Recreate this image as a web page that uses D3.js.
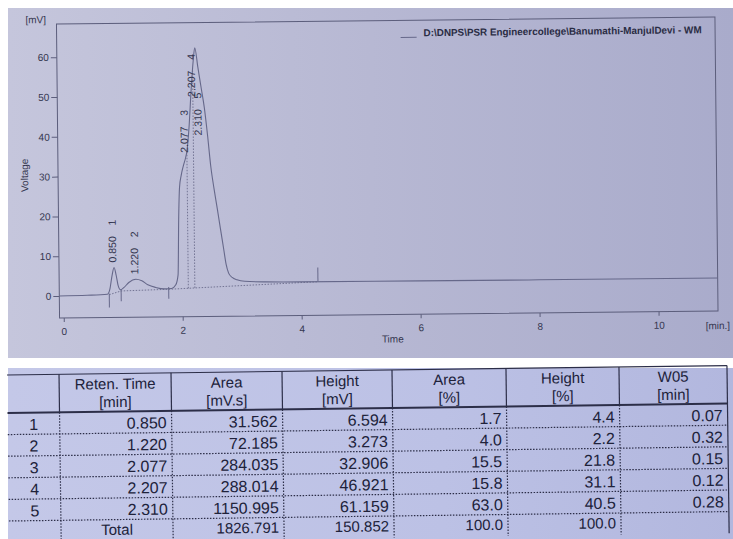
<!DOCTYPE html>
<html>
<head>
<meta charset="utf-8">
<script src="https://cdn.jsdelivr.net/npm/d3@7"></script>
<style>
  html, body { margin: 0; padding: 0; background: #ffffff; }
  svg { display: block; font-family: "Liberation Sans", Arial, sans-serif; }
</style>
</head>
<body>
<svg id="chart" width="733" height="539"></svg>
<script>
// ---------------- DATA ----------------
// detector trace: time [min], voltage [mV]
const signalTime = [-0.07, 0.40, 0.74, 0.78, 0.82, 0.855, 0.89, 0.92, 0.96, 1.02, 1.10, 1.22, 1.32, 1.42, 1.55, 1.70, 1.82, 1.89,
  1.93, 1.95, 1.97, 2.00, 2.04, 2.077, 2.10, 2.14, 2.18, 2.22, 2.25, 2.30, 2.35, 2.40, 2.45, 2.50, 2.55, 2.60, 2.65, 2.70,
  2.74, 2.78, 2.84, 2.92, 3.05, 3.40, 4.00, 6.00, 8.00, 11.00];
const signalMv = [0.0, 0.1, 0.3, 1.5, 5.0, 7.0, 5.0, 2.5, 1.4, 2.0, 3.2, 4.0, 3.6, 2.6, 1.9, 1.5, 1.6, 2.5,
  5.0, 19.0, 27.0, 30.0, 32.5, 34.4, 36.0, 42.0, 51.0, 58.5, 62.0, 57.0, 52.0, 47.0, 40.0, 32.0, 26.5, 21.6, 16.5, 11.5,
  7.5, 5.3, 4.2, 3.6, 3.2, 3.0, 2.9, 2.85, 2.8, 2.8];

// integration baseline (dotted) segments: time, mV
const baseTime = [0.77, 0.97, 1.77, 4.28];
const baseMv = [0.2, 1.1, 1.4, 2.9];
// event marks (short vertical ticks): time, low mV, high mV
const markTime = [0.77, 0.97, 1.77, 4.28];
const markLow = [-3.0, -1.5, -1.0, 3.0];
const markHigh = [0.5, 1.5, 2.0, 6.5];
// peak-split drop lines
const dropTime = [2.10, 2.21];

// peak table
const peakNo = ["1", "2", "3", "4", "5"];
const retTime = ["0.850", "1.220", "2.077", "2.207", "2.310"];
const areaVal = ["31.562", "72.185", "284.035", "288.014", "1150.995"];
const heightVal = ["6.594", "3.273", "32.906", "46.921", "61.159"];
const areaPct = ["1.7", "4.0", "15.5", "15.8", "63.0"];
const heightPct = ["4.4", "2.2", "21.8", "31.1", "40.5"];
const w05 = ["0.07", "0.32", "0.15", "0.12", "0.28"];
const totalRow = ["", "Total", "1826.791", "150.852", "100.0", "100.0", ""];
const headers1 = ["", "Reten. Time", "Area", "Height", "Area", "Height", "W05"];
const headers2 = ["", "[min]", "[mV.s]", "[mV]", "[%]", "[%]", "[min]"];
// label level of each peak annotation (mV)
const labelLevel = [7.0, 4.0, 34.4, 48.4, 38.7];

const xTicks = [0, 2, 4, 6, 8, 10];
const yTicks = [0, 10, 20, 30, 40, 50, 60];
const legendText = "D:\\DNPS\\PSR Engineercollege\\Banumathi-ManjulDevi - WM";

// ---------------- DRAW ----------------
const svg = d3.select("#chart");
const defs = svg.append("defs");
const g1 = defs.append("linearGradient").attr("id", "paper1").attr("x1", 0).attr("x2", 1).attr("y1", 0).attr("y2", 0);
g1.append("stop").attr("offset", 0).attr("stop-color", "#c5c6dc");
g1.append("stop").attr("offset", 0.5).attr("stop-color", "#b7b8d3");
g1.append("stop").attr("offset", 1).attr("stop-color", "#a9abcb");
const g2 = defs.append("linearGradient").attr("id", "paper2").attr("x1", 0).attr("x2", 1).attr("y1", 0).attr("y2", 0);
g2.append("stop").attr("offset", 0).attr("stop-color", "#c4c8e8");
g2.append("stop").attr("offset", 0.6).attr("stop-color", "#bcc1e5");
g2.append("stop").attr("offset", 1).attr("stop-color", "#b2b7de");

svg.append("rect").attr("x", 8).attr("y", 8).attr("width", 725).attr("height", 350).attr("fill", "url(#paper1)");
svg.append("rect").attr("x", 8).attr("y", 368).attr("width", 725).attr("height", 171).attr("fill", "url(#paper2)");

const ink = "#34364f";
const lineInk = "#66688a";

const chart = svg.append("g").attr("transform", "rotate(-0.6,58,170)");
const x = d3.scaleLinear().domain([-0.07, 11]).range([58, 716.5]);
const y = d3.scaleLinear().domain([0, 60]).range([296, 57.2]);
const frameTop = 24, frameBottom = 318;

// frame
chart.append("rect").attr("x", 58).attr("y", frameTop).attr("width", 716.5 - 58).attr("height", frameBottom - frameTop)
  .attr("fill", "none").attr("stroke", "#5c5e7c").attr("stroke-width", 1);

// axes
const yAxis = chart.append("g").attr("transform", "translate(58,0)")
  .call(d3.axisLeft(y).tickValues(yTicks).tickSize(6).tickPadding(2));
const xAxis = chart.append("g").attr("transform", `translate(0,${frameBottom})`)
  .call(d3.axisBottom(x).tickValues(xTicks).tickSize(4).tickPadding(6));
[yAxis, xAxis].forEach(a => {
  a.select(".domain").remove();
  a.selectAll("line").attr("stroke", "#5c5e7c");
  a.selectAll("text").attr("fill", ink).style("font-size", "10px");
});

chart.append("text").attr("x", 27).attr("y", 23).attr("fill", ink).style("font-size", "10px").text("[mV]");
chart.append("text").attr("transform", "translate(28,175) rotate(-90)").attr("text-anchor", "middle")
  .attr("fill", ink).style("font-size", "10px").text("Voltage");
chart.append("text").attr("x", 391).attr("y", 346).attr("text-anchor", "middle").attr("fill", ink).style("font-size", "10px").text("Time");
chart.append("text").attr("x", 704).attr("y", 336).attr("fill", ink).style("font-size", "10px").text("[min.]");

// legend
chart.append("line").attr("x1", 402).attr("x2", 418).attr("y1", 41).attr("y2", 41).attr("stroke", lineInk);
chart.append("text").attr("x", 425).attr("y", 40).attr("fill", "#2a2c44").style("font-size", "10px").style("font-weight", "bold")
  .attr("textLength", 278).attr("lengthAdjust", "spacingAndGlyphs").text(legendText);

// baseline & marks
const basePts = baseTime.map((t, i) => [x(t), y(baseMv[i])]);
chart.append("path").attr("d", d3.line()(basePts)).attr("fill", "none")
  .attr("stroke", "#6a6c8c").attr("stroke-width", 0.9).attr("stroke-dasharray", "1.5,1.5");
chart.selectAll(".mark").data(markTime).join("line").attr("class", "mark")
  .attr("x1", d => x(d)).attr("x2", d => x(d))
  .attr("y1", (d, i) => y(markLow[i])).attr("y2", (d, i) => y(markHigh[i]))
  .attr("stroke", lineInk).attr("stroke-width", 1);

const interp = t => {
  for (let i = 1; i < signalTime.length; i++) {
    if (t <= signalTime[i]) {
      const f = (t - signalTime[i - 1]) / (signalTime[i] - signalTime[i - 1]);
      return signalMv[i - 1] + f * (signalMv[i] - signalMv[i - 1]);
    }
  }
  return signalMv[signalMv.length - 1];
};
const baseAt = t => {
  for (let i = 1; i < baseTime.length; i++) {
    if (t <= baseTime[i]) {
      const f = (t - baseTime[i - 1]) / (baseTime[i] - baseTime[i - 1]);
      return baseMv[i - 1] + f * (baseMv[i] - baseMv[i - 1]);
    }
  }
  return baseMv[baseMv.length - 1];
};
chart.selectAll(".drop").data(dropTime).join("line").attr("class", "drop")
  .attr("x1", d => x(d)).attr("x2", d => x(d))
  .attr("y1", d => y(baseAt(d))).attr("y2", d => y(interp(d)))
  .attr("stroke", "#6a6c8c").attr("stroke-width", 0.9).attr("stroke-dasharray", "1.5,1.5");

// signal trace
const sigPts = signalTime.map((t, i) => [x(t), y(signalMv[i])]);
chart.append("path").attr("d", d3.line().curve(d3.curveMonotoneX)(sigPts))
  .attr("fill", "none").attr("stroke", lineInk).attr("stroke-width", 1.1);

// peak labels
retTime.forEach((rt, i) => {
  const px = x(+rt) - 1.5;
  const py = y(labelLevel[i]) - 5;
  chart.append("text").attr("transform", `translate(${px},${py}) rotate(-90)`)
    .attr("dominant-baseline", "central").attr("fill", ink).style("font-size", "10.5px").text(rt);
  chart.append("text").attr("transform", `translate(${px},${py - 40}) rotate(-90)`)
    .attr("dominant-baseline", "central").attr("text-anchor", "middle").attr("fill", ink).style("font-size", "10.5px").text(peakNo[i]);
});

// ---------------- TABLE ----------------
const table = svg.append("g").attr("transform", "rotate(-0.75,8,450)");
const colEdges = [8, 60, 172, 283, 393, 507, 620, 728];
const headTop = 375, headBottom = 413, rowH = 21.6;
const nRows = 6;
const tableBottom = headBottom + rowH * nRows;
const tInk = "#20223a";
const tLine = "#2c2e48";

table.append("line").attr("x1", 8).attr("x2", 728).attr("y1", headTop).attr("y2", headTop).attr("stroke", tLine).attr("stroke-width", 1.2);
table.append("line").attr("x1", 8).attr("x2", 728).attr("y1", headBottom).attr("y2", headBottom).attr("stroke", tLine).attr("stroke-width", 2);
colEdges.slice(1, 7).forEach(cx => {
  table.append("line").attr("x1", cx).attr("x2", cx).attr("y1", headTop).attr("y2", headBottom).attr("stroke", tLine).attr("stroke-width", 1.2);
  table.append("line").attr("x1", cx).attr("x2", cx).attr("y1", headBottom).attr("y2", tableBottom)
    .attr("stroke", tLine).attr("stroke-width", 1.2).attr("stroke-dasharray", "1.5,1.5");
});
table.append("line").attr("x1", 728).attr("x2", 728).attr("y1", headTop).attr("y2", tableBottom).attr("stroke", tLine).attr("stroke-width", 1.2);
for (let r = 1; r < nRows; r++) {
  table.append("line").attr("x1", 8).attr("x2", 728).attr("y1", headBottom + r * rowH).attr("y2", headBottom + r * rowH)
    .attr("stroke", tLine).attr("stroke-width", 1.2).attr("stroke-dasharray", "1.5,1.5");
}
headers1.forEach((h, c) => {
  const cx = (colEdges[c] + colEdges[c + 1]) / 2;
  table.append("text").attr("x", cx).attr("y", 385).attr("text-anchor", "middle").attr("dominant-baseline", "central")
    .attr("fill", tInk).style("font-size", "15px").text(h);
  table.append("text").attr("x", cx).attr("y", 403).attr("text-anchor", "middle").attr("dominant-baseline", "central")
    .attr("fill", tInk).style("font-size", "15px").text(headers2[c]);
});
const rows = peakNo.map((n, i) => [n, retTime[i], areaVal[i], heightVal[i], areaPct[i], heightPct[i], w05[i]]);
rows.push(totalRow);
rows.forEach((row, r) => {
  const isTotal = r === rows.length - 1;
  const cy = headBottom + rowH * r + rowH / 2 + (isTotal ? -1 : 1);
  row.forEach((v, c) => {
    let tx, anchor;
    if (c === 0 || (isTotal && c === 1)) { tx = (colEdges[c] + colEdges[c + 1]) / 2; anchor = "middle"; }
    else { tx = colEdges[c + 1] - 5; anchor = "end"; }
    table.append("text").attr("x", tx).attr("y", cy).attr("text-anchor", anchor).attr("dominant-baseline", "central")
      .attr("fill", tInk).style("font-size", isTotal ? "15px" : "16px").text(v);
  });
});
</script>
</body>
</html>
